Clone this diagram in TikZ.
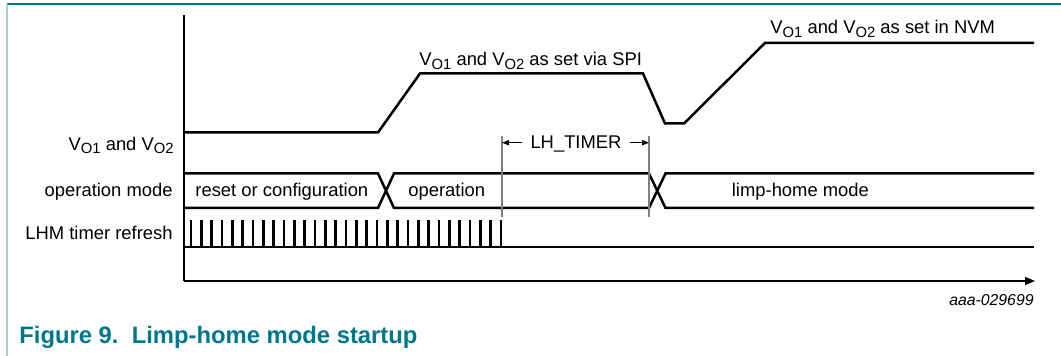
\documentclass[tikz,border=0pt]{standalone}
\usepackage{fontspec}
\setmainfont{Liberation Sans}
\usetikzlibrary{arrows.meta}
\definecolor{nxpteal}{RGB}{0,118,138}
\definecolor{nxplight}{RGB}{160,208,218}
\newcommand\vsb[1]{\raisebox{-0.35ex}{\fontsize{7.4}{8}\selectfont #1}}
\newcommand\vv{V\vsb{O1} and V\vsb{O2}}
\begin{document}
\begin{tikzpicture}[x=0.5pt,y=-0.5pt,
  lbl/.style={inner sep=0pt,font=\fontsize{9.2}{11}\selectfont},
  sig/.style={line width=1.25pt,line join=miter},
  axis/.style={line width=0.75pt},
  pulse/.style={line width=1.3pt},
  guide/.style={line width=0.7pt,draw=black!50},
  dim/.style={line width=0.6pt,-{Stealth[length=3.5pt,width=2.6pt,inset=0pt]}}]
\useasboundingbox (0,0) rectangle (1061,356);
% frame
\draw[line width=1pt,nxpteal] (7,4.5) -- (1061,4.5);
\draw[line width=0.8pt,nxplight] (7,4) -- (7,356);
% axes
\draw[axis] (184,15) -- (184,281);
\draw[axis,-{Stealth[length=5pt,width=4pt,inset=0pt]}] (184,281) -- (1035,281);
% VO signal
\draw[sig] (184,132.5) -- (378,132.5) -- (420,73.5) -- (643,73.5) -- (665,123.5)
  -- (684,123.5) -- (765,43) -- (1034,43);
% operation mode bus
\draw[sig] (184,173.5) -- (378,173.5) -- (394,208) -- (649,208) -- (665.5,173.5) -- (1034,173.5);
\draw[sig] (184,208) -- (378,208) -- (394,173.5) -- (649,173.5) -- (665.5,208) -- (1034,208);
% LHM timer refresh
\draw[sig] (184,247) -- (1034,247);
\foreach \i in {0,...,30}{
  \draw[pulse] ({191+10.333*\i},247) -- ({191+10.333*\i},220);
}
% LH_TIMER guides
\coordinate (ga) at (502,142.7);
\coordinate (gb) at (649,142.7);
\draw[guide] (502,136) -- (502,217);
\draw[guide] (649,136) -- (649,217);
\node[lbl,anchor=base] (lh) at (576,148.3) {LH\_TIMER};
\draw[dim] ([xshift=-4pt]lh.west |- ga) -- (ga);
\draw[dim] ([xshift=4pt]lh.east |- gb) -- (gb);
% labels
\node[lbl,anchor=base east] (lv) at (174,150.4) {\vv};
\node[lbl,anchor=base west] (lspi) at (419,66) {\vv{} as set via SPI};
\node[lbl,anchor=base west] (lnvm) at (770,34) {\vv{} as set in NVM};
\node[lbl,anchor=base east] (lop) at (173,196.5) {operation mode};
\node[lbl,anchor=base west] (lrst) at (195,196.5) {reset or configuration};
\node[lbl,anchor=base west] (loper) at (408,196.5) {operation};
\node[lbl,anchor=base west] (llh) at (731.5,197) {limp-home mode};
\node[lbl,anchor=base east] (lhm) at (173,239.5) {LHM timer refresh};
\node[inner sep=0pt,anchor=base east,font=\fontsize{7.9}{9}\selectfont\itshape] (code) at (1034,305.6) {aaa-029699};
\node[inner sep=0pt,anchor=base west,text=nxpteal,font=\fontsize{11.9}{14}\selectfont\bfseries] (cap) at (19,344) {Figure 9.\ \ Limp-home mode startup};
\end{tikzpicture}
\end{document}
